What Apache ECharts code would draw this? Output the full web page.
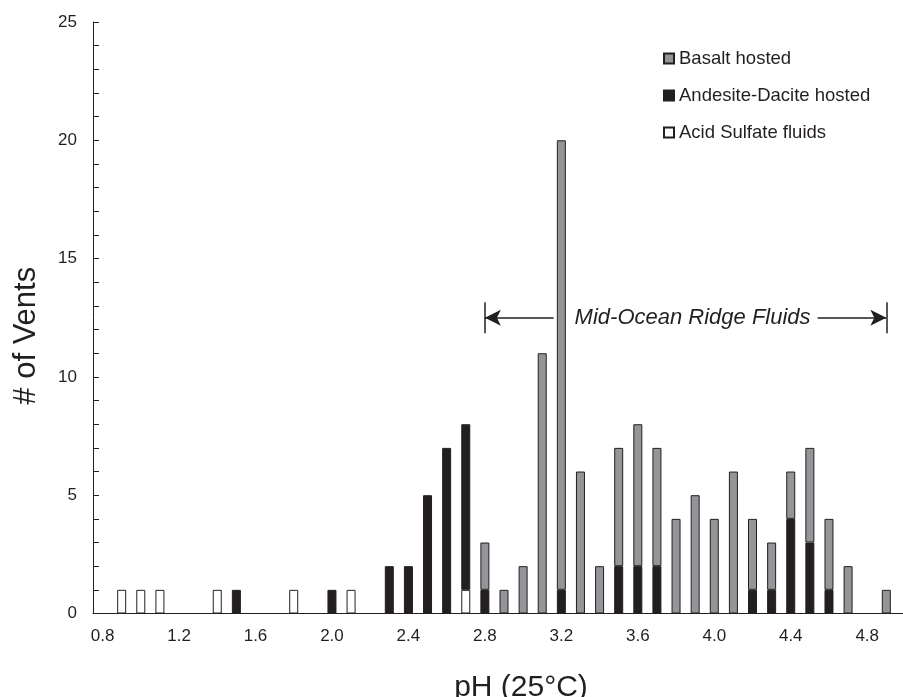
<!DOCTYPE html>
<html lang="en">
<head>
    <meta charset="UTF-8">
    <title>pH of vent fluids</title>
    <script src="https://cdn.jsdelivr.net/npm/echarts@6/dist/echarts.min.js"></script>
    <style>
        html, body { margin: 0; padding: 0; background: #fff; }
        #main { width: 903px; height: 697px; }
    </style>
</head>
<body>
    <div id="main"></div>
    <script>
        // pH bins (25 C)
        const phBins = ['0.8', '0.9', '1.0', '1.1', '1.2', '1.3', '1.4', '1.5', '1.6', '1.7',
            '1.8', '1.9', '2.0', '2.1', '2.2', '2.3', '2.4', '2.5', '2.6', '2.7',
            '2.8', '2.9', '3.0', '3.1', '3.2', '3.3', '3.4', '3.5', '3.6', '3.7',
            '3.8', '3.9', '4.0', '4.1', '4.2', '4.3', '4.4', '4.5', '4.6', '4.7',
            '4.8', '4.9', '5.0'];

        // number of vents per bin
        const acidSulfate = [0, 1, 1, 1, 0, 0, 1, 0, 0, 0,
            1, 0, 0, 1, 0, 0, 0, 0, 0, 1,
            0, 0, 0, 0, 0, 0, 0, 0, 0, 0,
            0, 0, 0, 0, 0, 0, 0, 0, 0, 0,
            0, 0, 0];
        const andesiteDacite = [0, 0, 0, 0, 0, 0, 0, 1, 0, 0,
            0, 0, 1, 0, 0, 2, 2, 5, 7, 7,
            1, 0, 0, 0, 1, 0, 0, 2, 2, 2,
            0, 0, 0, 0, 1, 1, 4, 3, 1, 0,
            0, 0, 0];
        const basalt = [0, 0, 0, 0, 0, 0, 0, 0, 0, 0,
            0, 0, 0, 0, 0, 0, 0, 0, 0, 0,
            2, 1, 2, 11, 19, 6, 2, 5, 6, 5,
            4, 5, 4, 6, 3, 2, 2, 4, 3, 2,
            0, 1, 0];

        const yTicks = [0, 5, 10, 15, 20, 25];

        // MOR range annotation
        const morRange = ['2.8', '4.9'];
        const morLevel = 12.5;
        const morBarHalf = 0.65;

        const ink = '#231f20';
        const font = 'Liberation Sans, Arial, sans-serif';
        const chart = echarts.init(document.getElementById('main'));

        const fill = arr => arr.map(v => (v === 0 ? '-' : v));

        const option = {
            animation: false,
            textStyle: { fontFamily: font, color: ink },
            grid: {
                left: 93,
                right: -12,
                top: 22,
                bottom: 83.5,
                containLabel: false,
                outerBoundsMode: 'none'
            },
            legend: {
                orient: 'vertical',
                left: 663,
                top: 49,
                padding: 0,
                itemGap: 18,
                itemWidth: 10,
                itemHeight: 10,
                icon: 'rect',
                textStyle: { fontSize: 18.5, color: ink, fontFamily: font },
                data: ['Basalt hosted', 'Andesite-Dacite hosted', 'Acid Sulfate fluids']
            },
            xAxis: {
                type: 'category',
                data: phBins,
                boundaryGap: true,
                name: 'pH (25°C)',
                nameLocation: 'middle',
                nameGap: 59,
                nameTextStyle: { fontSize: 30, color: ink, padding: [0, 0, 0, 34] },
                axisLine: { lineStyle: { color: ink, width: 1 } },
                axisTick: { interval: 0, length: 6, lineStyle: { color: ink } },
                axisLabel: { interval: 3, fontSize: 17, color: ink, margin: 14 },
                splitLine: { show: false }
            },
            yAxis: {
                type: 'value',
                min: yTicks[0],
                max: yTicks[yTicks.length - 1],
                interval: 5,
                name: '# of Vents',
                nameLocation: 'middle',
                nameRotate: 90,
                nameGap: 51,
                nameTextStyle: { fontSize: 31, color: ink, padding: [0, 36, 0, 0] },
                axisLine: { show: true, lineStyle: { color: ink, width: 1 } },
                axisTick: { show: true, inside: true, length: 6, lineStyle: { color: ink } },
                minorTick: { show: true, splitNumber: 5, length: 6, lineStyle: { color: ink } },
                axisLabel: { fontSize: 17, color: ink, margin: 16 },
                splitLine: { show: false },
                minorSplitLine: { show: false }
            },
            series: [
                {
                    name: 'Acid Sulfate fluids',
                    type: 'bar',
                    stack: 'vents',
                    barWidth: 9,
                    z: 2,
                    data: fill(acidSulfate),
                    itemStyle: { color: '#ffffff', borderColor: ink, borderWidth: 1 },
                    markLine: {
                        silent: true,
                        z: 1,
                        animation: false,
                        lineStyle: { color: ink, width: 1.5, type: 'solid' },
                        label: { show: false },
                        data: [
                            [
                                { coord: [morRange[0], morLevel], symbol: 'arrow', symbolSize: [12, 16] },
                                {
                                    coord: [morRange[1], morLevel], symbol: 'arrow', symbolSize: [12, 16],
                                    label: {
                                        show: true,
                                        position: 'middle',
                                        distance: 0,
                                        verticalAlign: 'middle',
                                        formatter: 'Mid-Ocean Ridge Fluids',
                                        fontSize: 22,
                                        fontStyle: 'italic',
                                        fontFamily: font,
                                        color: ink,
                                        backgroundColor: '#ffffff',
                                        padding: [2, 7, 2, 21]
                                    }
                                }
                            ],
                            [
                                { coord: [morRange[0], morLevel - morBarHalf], symbol: 'none' },
                                { coord: [morRange[0], morLevel + morBarHalf], symbol: 'none' }
                            ],
                            [
                                { coord: [morRange[1], morLevel - morBarHalf], symbol: 'none' },
                                { coord: [morRange[1], morLevel + morBarHalf], symbol: 'none' }
                            ]
                        ]
                    }
                },
                {
                    name: 'Andesite-Dacite hosted',
                    type: 'bar',
                    stack: 'vents',
                    barWidth: 9,
                    z: 3,
                    data: fill(andesiteDacite),
                    itemStyle: { color: ink, borderColor: ink, borderWidth: 1 }
                },
                {
                    name: 'Basalt hosted',
                    type: 'bar',
                    stack: 'vents',
                    barWidth: 9,
                    z: 3,
                    data: fill(basalt),
                    itemStyle: { color: '#939598', borderColor: ink, borderWidth: 1 }
                }
            ]
        };

        chart.setOption(option);
    </script>
</body>
</html>
